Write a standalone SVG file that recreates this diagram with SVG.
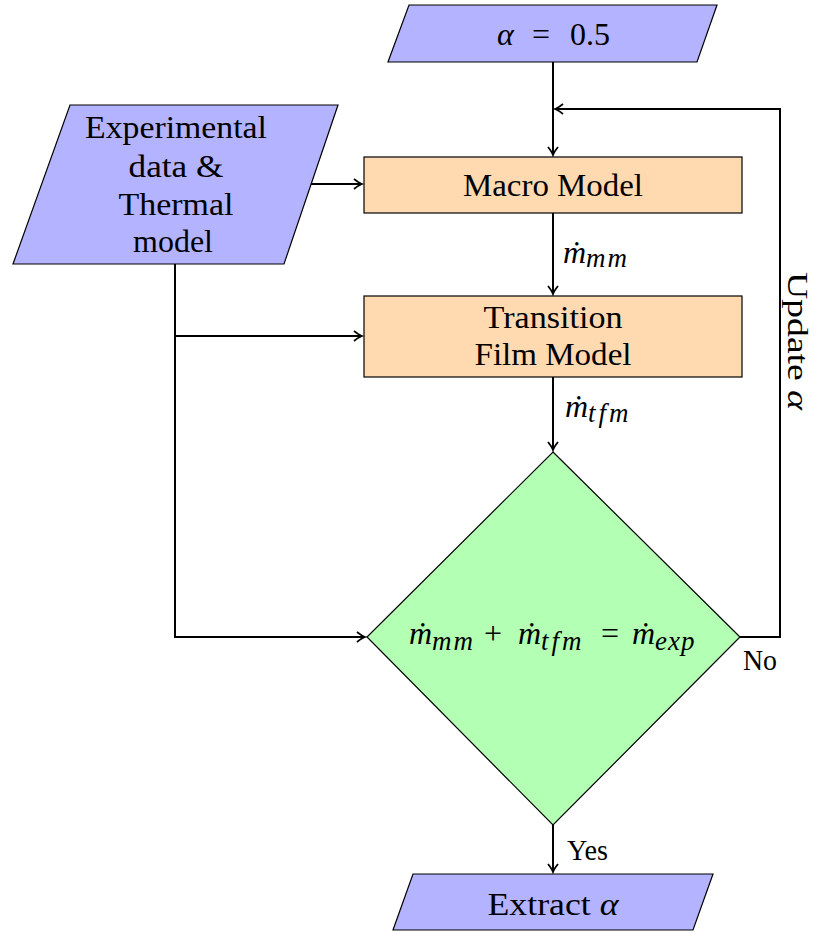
<svg xmlns="http://www.w3.org/2000/svg" width="816" height="933" viewBox="0 0 816 933">
<style>
.io{fill:#b3b3ff;stroke:#000;stroke-width:1.2}
.proc{fill:#ffd9b0;stroke:#000;stroke-width:1.2}
.dec{fill:#b3ffb3;stroke:#000;stroke-width:1.2}
text{font-family:'Liberation Serif','Times New Roman',serif;fill:#000}
.t{font-size:31px;text-anchor:middle}
.lbl{font-size:32px}
.i{font-style:italic}
.s{font-size:27px;font-style:italic}
.c{fill:none;stroke:#000;stroke-width:2}
</style>
<defs>
<marker id="arr" viewBox="-10 -6 12 12" refX="0" refY="0" markerWidth="12" markerHeight="12" markerUnits="userSpaceOnUse" orient="auto">
<path d="M-8,-5 Q-3,-1 0,0 Q-3,1 -8,5" fill="none" stroke="#000" stroke-width="1.8"/>
</marker>
</defs>
<g id="connectors">
<path class="c" d="M553,62 V155" marker-end="url(#arr)"/>
<path class="c" d="M740,637 H780 V109 H555" marker-end="url(#arr)"/>
<path class="c" d="M311,184 H362" marker-end="url(#arr)"/>
<path class="c" d="M553,213 V294" marker-end="url(#arr)"/>
<path class="c" d="M553,377 V450" marker-end="url(#arr)"/>
<path class="c" d="M175,264 V637 H365" marker-end="url(#arr)"/>
<path class="c" d="M175,336 H362" marker-end="url(#arr)"/>
<path class="c" d="M553,825 V872" marker-end="url(#arr)"/>
<text class="lbl" x="563" y="263"><tspan class="i">ṁ</tspan><tspan class="s" x="586" dy="4" style="letter-spacing:2px">mm</tspan></text>
<text class="lbl" x="565" y="417"><tspan class="i">ṁ</tspan><tspan class="s" x="588" dy="5" style="letter-spacing:3px">tfm</tspan></text>
<text x="743" y="670" font-size="29" textLength="34" lengthAdjust="spacingAndGlyphs">No</text>
<text x="567" y="860" font-size="29" textLength="41" lengthAdjust="spacingAndGlyphs">Yes</text>
<text class="lbl" transform="translate(788,272) rotate(90)" x="0" y="0" style="font-size:30px" textLength="138" lengthAdjust="spacingAndGlyphs">Update <tspan class="i">α</tspan></text>
</g>
<g id="alpha-init">
<polygon class="io" points="409,5 717,5 697,62 388,62"/>
<text class="lbl" x="497" y="45"><tspan class="i">α</tspan><tspan x="532">=</tspan><tspan x="570">0.5</tspan></text>
</g>
<g id="exp-data">
<polygon class="io" points="70,105 338,105 284,264 13,264"/>
<text class="t" x="176" y="138" textLength="182" lengthAdjust="spacingAndGlyphs">Experimental</text>
<text class="t" x="176" y="177" textLength="95" lengthAdjust="spacingAndGlyphs">data &amp;</text>
<text class="t" x="176" y="215" textLength="115" lengthAdjust="spacingAndGlyphs">Thermal</text>
<text class="t" x="173" y="252" textLength="80" lengthAdjust="spacingAndGlyphs">model</text>
</g>
<g id="macro">
<rect class="proc" x="364" y="157" width="378" height="56"/>
<text class="t" x="553" y="196" textLength="180" lengthAdjust="spacingAndGlyphs">Macro Model</text>
</g>
<g id="transition">
<rect class="proc" x="364" y="296" width="378" height="81"/>
<text class="t" x="553" y="328" textLength="139" lengthAdjust="spacingAndGlyphs">Transition</text>
<text class="t" x="553" y="365" textLength="157" lengthAdjust="spacingAndGlyphs">Film Model</text>
</g>
<g id="decision">
<polygon class="dec" points="553,452 740,637 553,825 367,637"/>
<text class="lbl" x="409" y="644"><tspan class="i">ṁ</tspan><tspan class="s" x="432" dy="6" style="letter-spacing:2px">mm</tspan><tspan x="484" dy="-6">+</tspan><tspan class="i" x="518">ṁ</tspan><tspan class="s" x="541" dy="6" style="letter-spacing:3px">tfm</tspan><tspan x="601" dy="-6">=</tspan><tspan class="i" x="632">ṁ</tspan><tspan class="s" x="655" dy="6" style="letter-spacing:1px">exp</tspan></text>
</g>
<g id="extract">
<polygon class="io" points="413,874 713,874 693,930 393,930"/>
<text class="t" x="553" y="915" textLength="131" lengthAdjust="spacingAndGlyphs">Extract <tspan class="i">α</tspan></text>
</g>
</svg>
